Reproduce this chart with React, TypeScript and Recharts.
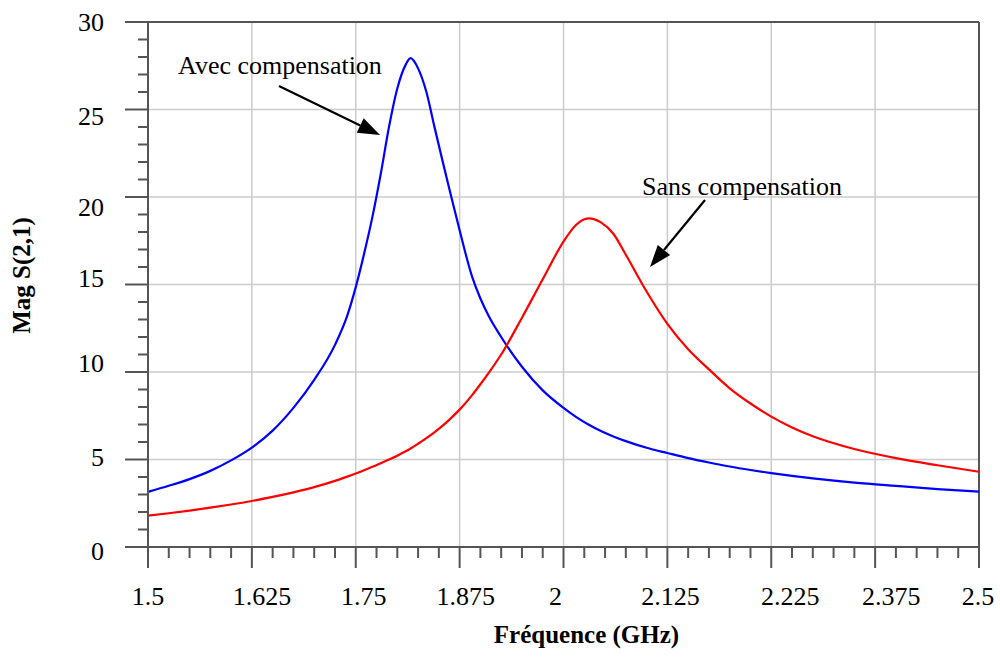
import React from "react";
import {
  LineChart,
  Line,
  XAxis,
  YAxis,
  CartesianGrid,
  ReferenceLine,
} from "recharts";

// frequency samples (GHz)
const freqGHz = [
  1.5, 1.525, 1.55, 1.575, 1.6, 1.625, 1.65, 1.675, 1.7, 1.725, 1.74, 1.75,
  1.76, 1.77, 1.78, 1.79, 1.8, 1.81, 1.816, 1.825, 1.835, 1.845, 1.855, 1.865,
  1.875, 1.89, 1.9, 1.91, 1.925, 1.95, 1.975, 2.0, 2.015, 2.03, 2.045, 2.06,
  2.075, 2.1, 2.125, 2.15, 2.175, 2.2, 2.225, 2.25, 2.275, 2.3, 2.35, 2.4,
  2.45, 2.5,
];

// Mag S(2,1) with compensation (blue)
const avecComp = [
  3.15, 3.5, 3.88, 4.35, 4.95, 5.68, 6.65, 7.95, 9.55, 11.55, 13.25, 14.85,
  16.75, 18.85, 21.3, 24.0, 26.2, 27.55, 27.93, 27.35, 26.0, 23.95, 21.95, 20.0,
  18.1, 15.45, 14.2, 13.2, 12.0, 10.3, 8.95, 7.95, 7.44, 7.0, 6.63, 6.32,
  6.05, 5.67, 5.37, 5.08, 4.83, 4.6, 4.4, 4.22, 4.06, 3.92, 3.68, 3.49,
  3.31, 3.16,
];

// Mag S(2,1) without compensation (red)
const sansComp = [
  1.79, 1.93, 2.08, 2.25, 2.43, 2.63, 2.86, 3.12, 3.42, 3.78, 4.02, 4.2,
  4.38, 4.58, 4.79, 5.0, 5.22, 5.47, 5.63, 5.9, 6.22, 6.57, 6.95, 7.38,
  7.85, 8.68, 9.3, 9.95, 11.0, 13.1, 15.3, 17.45, 18.4, 18.78, 18.55, 17.9,
  16.7, 14.6, 12.75, 11.3, 10.15, 9.07, 8.2, 7.45, 6.83, 6.33, 5.6, 5.08,
  4.67, 4.3,
];

const xMajorTicks = [1.5, 1.625, 1.75, 1.875, 2, 2.125, 2.25, 2.375, 2.5];
const xTickLabels = ["1.5", "1.625", "1.75", "1.875", "2", "2.125", "2.225", "2.375", "2.5"];
const yMajorTicks = [0, 5, 10, 15, 20, 25, 30];
const yTickLabels = ["0", "5", "10", "15", "20", "25", "30"];

const data = freqGHz.map((f, i) => ({ f, avec: avecComp[i], sans: sansComp[i] }));

// the original export places a few labels slightly off their ticks
const xLabelNudge = [0, 10, 8, 6, -8, 3, 19, 16, -1];
const yLabelNudge = [4, -2.5, -9, -6.5, 10, 6.5, 0];

const FONT = '"Liberation Serif", "Times New Roman", "DejaVu Serif", serif';
const AXIS = "#555";
const GRID = "#cccccc";

const txt = (size: number, bold = false): React.CSSProperties => ({
  fontFamily: FONT,
  fontSize: size,
  fontWeight: bold ? 700 : 400,
  fill: "#000",
});

const withMinor = (majors: number[], sub: number) => {
  const out: number[] = [];
  majors.forEach((m, i) => {
    out.push(m);
    if (i < majors.length - 1) {
      const step = (majors[i + 1] - m) / sub;
      for (let k = 1; k < sub; k++) out.push(+(m + k * step).toFixed(4));
    }
  });
  return out;
};

const xAllTicks = withMinor(xMajorTicks, 5);
const yAllTicks = withMinor(yMajorTicks, 5);

const findMajor = (arr: number[], v: number) => arr.findIndex((m) => Math.abs(m - v) < 1e-6);

const XTick = (props: any) => {
  const { x, y, payload } = props;
  const i = findMajor(xMajorTicks, payload.value);
  const major = i >= 0;
  return (
    <g>
      <line x1={x} y1={y} x2={x} y2={y + (major ? 21 : 11)} stroke={AXIS} strokeWidth={2} />
      {major && (
        <text x={x + xLabelNudge[i]} y={y + 58} textAnchor="middle" style={txt(26)}>
          {xTickLabels[i]}
        </text>
      )}
    </g>
  );
};

const YTick = (props: any) => {
  const { x, y, payload } = props;
  const i = findMajor(yMajorTicks, payload.value);
  const major = i >= 0;
  return (
    <g>
      <line x1={x} y1={y} x2={x - (major ? 23 : 10)} y2={y} stroke={AXIS} strokeWidth={2} />
      {major && (
        <text x={x - 44} y={y + yLabelNudge[i] + 9} textAnchor="end" style={txt(26)}>
          {yTickLabels[i]}
        </text>
      )}
    </g>
  );
};

const arrowShape = (label: string, dx: number, dy: number) => (p: any) => {
  const { x1, y1, x2, y2 } = p;
  const a = Math.atan2(y2 - y1, x2 - x1);
  const c = Math.cos(a);
  const s = Math.sin(a);
  const L = 22;
  const W = 8;
  const bx = x2 - L * c;
  const by = y2 - L * s;
  const pts = `${x2},${y2} ${bx - W * s},${by + W * c} ${bx + W * s},${by - W * c}`;
  return (
    <g>
      <line x1={x1} y1={y1} x2={bx} y2={by} stroke="#000" strokeWidth={2.2} />
      <polygon points={pts} fill="#000" />
      <text x={x1 + dx} y={y1 + dy} textAnchor="middle" style={txt(26)}>
        {label}
      </text>
    </g>
  );
};

export default function App() {
  return (
    <div style={{ position: "absolute", left: 0, top: 0, background: "#fff", fontFamily: FONT }}>
      <LineChart width={1000} height={666} data={data} margin={{ top: 22, right: 21, bottom: 0, left: 0 }}>
        <CartesianGrid
          stroke={GRID}
          strokeWidth={1.5}
          horizontalValues={[5, 10, 15, 20, 25]}
          verticalValues={xMajorTicks.slice(1, -1)}
        />
        <XAxis
          dataKey="f"
          type="number"
          domain={[1.5, 2.5]}
          ticks={xAllTicks}
          interval={0}
          height={119}
          tickSize={0}
          tickMargin={0}
          tickLine={false}
          axisLine={{ stroke: AXIS, strokeWidth: 2 }}
          tick={<XTick />}
          label={(lp: any) => {
            const vb = lp.viewBox;
            return (
              <text x={vb.x + vb.width / 2 + 23} y={vb.y + 96} textAnchor="middle" style={txt(25, true)}>
                Fréquence (GHz)
              </text>
            );
          }}
        />
        <YAxis
          type="number"
          domain={[0, 30]}
          ticks={yAllTicks}
          interval={0}
          width={148}
          tickSize={0}
          tickMargin={0}
          tickLine={false}
          axisLine={{ stroke: AXIS, strokeWidth: 2 }}
          tick={<YTick />}
          label={(lp: any) => {
            const vb = lp.viewBox;
            const cy = vb.y + vb.height / 2 - 9;
            return (
              <text x={30} y={cy} transform={`rotate(-90 30 ${cy})`} textAnchor="middle" style={txt(25, true)}>
                Mag S(2,1)
              </text>
            );
          }}
        />
        <ReferenceLine y={30} stroke={AXIS} strokeWidth={2} />
        <ReferenceLine x={2.5} stroke={AXIS} strokeWidth={2} />
        <Line type="monotone" dataKey="avec" stroke="#0000ff" strokeWidth={2.2} dot={false} isAnimationActive={false} />
        <Line type="monotone" dataKey="sans" stroke="#ff0000" strokeWidth={2.2} dot={false} isAnimationActive={false} />
        <ReferenceLine
          segment={[{ x: 1.6576, y: 26.34 }, { x: 1.7792, y: 23.54 }]}
          shape={arrowShape("Avec compensation", 1, -12)}
        />
        <ReferenceLine
          segment={[{ x: 2.1703, y: 19.83 }, { x: 2.1041, y: 16.0 }]}
          shape={arrowShape("Sans compensation", 37, -5)}
        />
      </LineChart>
    </div>
  );
}
